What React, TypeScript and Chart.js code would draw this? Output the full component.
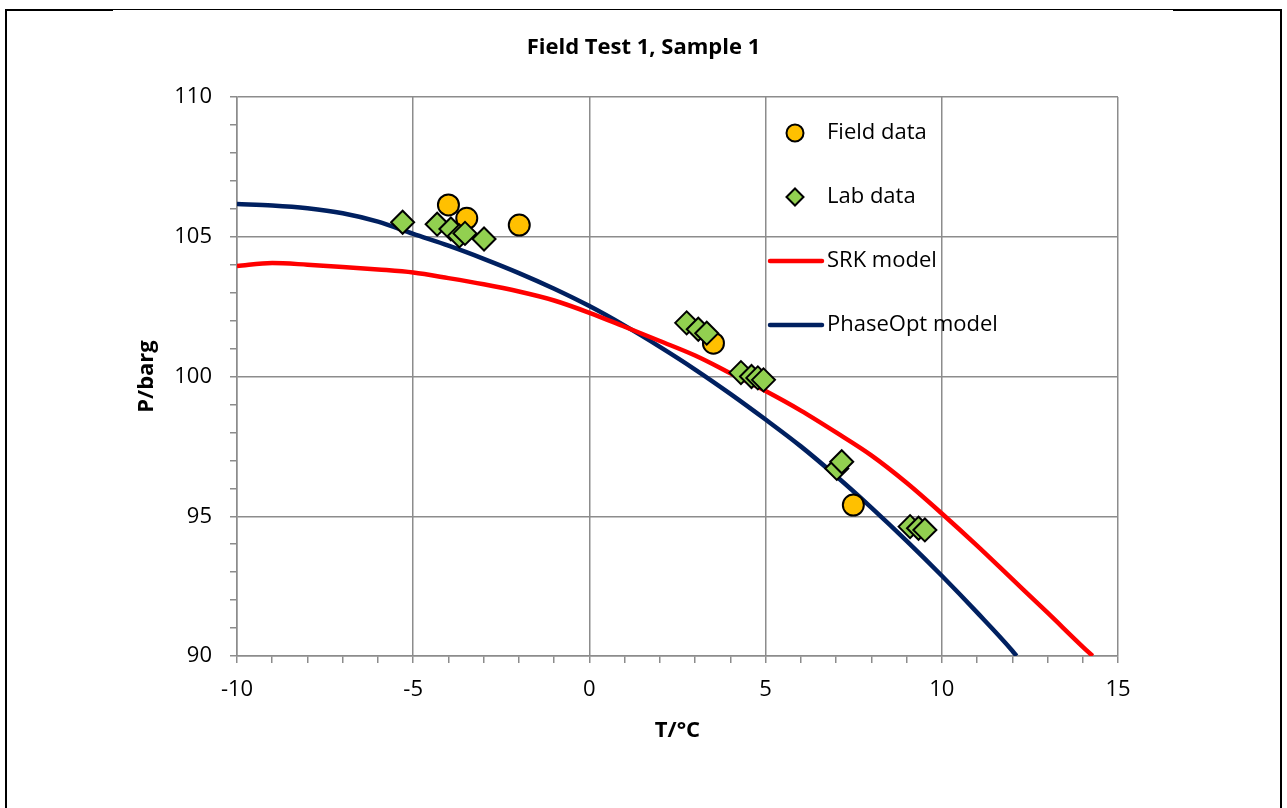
import { useEffect, useRef } from 'react';
import { Chart, registerables } from 'chart.js';

Chart.register(...registerables);

// ---- data ----
const fieldT = [-4.0, -3.48, -1.99, 3.52, 7.49];
const fieldP = [106.14, 105.66, 105.42, 101.19, 95.4];

const labT = [-5.3, -4.32, -3.93, -3.69, -3.53, -2.99, 2.76, 3.09, 3.33, 4.3, 4.6, 4.78, 4.94, 7.02, 7.16, 9.1, 9.34, 9.52];
const labP = [105.52, 105.45, 105.28, 105.03, 105.12, 104.92, 101.92, 101.69, 101.55, 100.14, 100.0, 99.95, 99.88, 96.71, 96.95, 94.63, 94.57, 94.51];

const srkT = [-10, -9, -8, -7, -6, -5, -4, -3, -2, -1, 0, 1, 2, 3, 4, 5, 6, 7, 8, 9, 10, 11, 12, 13, 14, 14.28];
const srkP = [103.95, 104.06, 104.0, 103.92, 103.83, 103.72, 103.52, 103.3, 103.04, 102.72, 102.28, 101.78, 101.27, 100.75, 100.12, 99.48, 98.78, 98.0, 97.18, 96.2, 95.1, 93.95, 92.75, 91.55, 90.33, 90.0];

const phaseT = [-10, -9, -8, -7, -6, -5, -4, -3, -2, -1, 0, 1, 2, 3, 4, 5, 6, 7, 8, 9, 10, 11, 12, 12.12];
const phaseP = [106.17, 106.12, 106.02, 105.84, 105.54, 105.1, 104.68, 104.21, 103.7, 103.14, 102.52, 101.82, 101.06, 100.25, 99.38, 98.46, 97.5, 96.44, 95.31, 94.12, 92.87, 91.56, 90.19, 90.0];

const xTickLabels = ['-10', '-5', '0', '5', '10', '15'];
const yTickLabels = ['90', '95', '100', '105', '110'];

const FONT = '"Open Sans", "Noto Sans", sans-serif';
const GRID = '#8c8c8c';

const pts = (xs: number[], ys: number[]) => xs.map((x, i) => ({ x, y: ys[i] }));

const legendPlugin = {
  id: 'insideLegend',
  afterDraw(chart: any) {
    const { ctx, chartArea } = chart;
    const markerX = chartArea.left + 558;
    const lineX0 = chartArea.left + 533;
    const lineX1 = chartArea.left + 585;
    const textX = chartArea.left + 590;
    ctx.save();
    chart.data.datasets.forEach((ds: any, i: number) => {
      const y = chartArea.top + 36 + 64 * i;
      if (ds.showLine) {
        ctx.strokeStyle = ds.borderColor;
        ctx.lineWidth = ds.borderWidth;
        ctx.lineCap = 'round';
        ctx.beginPath();
        ctx.moveTo(lineX0, y);
        ctx.lineTo(lineX1, y);
        ctx.stroke();
      } else {
        ctx.fillStyle = ds.pointBackgroundColor;
        ctx.strokeStyle = ds.pointBorderColor;
        ctx.lineWidth = 2;
        ctx.beginPath();
        if (ds.pointStyle === 'circle') {
          ctx.arc(markerX, y, 8.5, 0, Math.PI * 2);
        } else {
          const r = 8.5;
          ctx.moveTo(markerX - r, y);
          ctx.lineTo(markerX, y - r);
          ctx.lineTo(markerX + r, y);
          ctx.lineTo(markerX, y + r);
          ctx.closePath();
        }
        ctx.fill();
        ctx.stroke();
      }
      ctx.fillStyle = '#000';
      ctx.font = `22px ${FONT}`;
      ctx.textAlign = 'left';
      ctx.textBaseline = 'middle';
      ctx.fillText(ds.label, textX, y);
    });
    ctx.restore();
  },
};

export default function App() {
  const ref = useRef<HTMLCanvasElement | null>(null);

  useEffect(() => {
    if (!ref.current) return;
    const gridColor = (c: any) =>
      c.tick && Math.round(c.tick.value) % 5 === 0 ? GRID : 'rgba(0,0,0,0)';
    const chart = new Chart(ref.current, {
      type: 'scatter',
      data: {
        datasets: [
          {
            label: 'Field data',
            data: pts(fieldT, fieldP),
            pointStyle: 'circle',
            pointRadius: 10.5,
            pointBackgroundColor: '#FFC000',
            pointBorderColor: '#000',
            pointBorderWidth: 2,
            showLine: false,
            order: 1,
          },
          {
            label: 'Lab data',
            data: pts(labT, labP),
            pointStyle: 'rectRot',
            pointRadius: 11.5,
            pointBackgroundColor: '#92D050',
            pointBorderColor: '#000',
            pointBorderWidth: 2,
            showLine: false,
            order: 0,
          },
          {
            label: 'SRK model',
            data: pts(srkT, srkP),
            showLine: true,
            borderColor: '#FF0000',
            backgroundColor: '#FF0000',
            borderWidth: 4.5,
            pointRadius: 0,
            cubicInterpolationMode: 'monotone',
            order: 2,
          },
          {
            label: 'PhaseOpt model',
            data: pts(phaseT, phaseP),
            showLine: true,
            borderColor: '#002060',
            backgroundColor: '#002060',
            borderWidth: 4.5,
            pointRadius: 0,
            cubicInterpolationMode: 'monotone',
            order: 3,
          },
        ],
      } as any,
      options: {
        responsive: false,
        animation: false,
        layout: { padding: 0 },
        plugins: {
          legend: { display: false },
          tooltip: { enabled: false },
          title: {
            display: true,
            text: 'Field Test 1, Sample 1',
            color: '#000',
            font: { family: FONT, size: 22, weight: 'bold', lineHeight: 1.2 },
            padding: { top: 35, bottom: 35.6 },
          },
        },
        scales: {
          x: {
            type: 'linear',
            min: -10,
            max: 15,
            ticks: {
              stepSize: 1,
              autoSkip: false,
              maxRotation: 0,
              padding: 14,
              color: '#000',
              font: { family: FONT, size: 22 },
              callback: (v: any) => {
                const s = String(v);
                return xTickLabels.includes(s) ? s : '';
              },
            },
            grid: { color: gridColor, tickColor: GRID, tickLength: 7, lineWidth: 1.5 },
            border: { color: GRID, width: 1.5 },
            title: {
              display: true,
              text: 'T/°C',
              color: '#000',
              font: { family: FONT, size: 22, weight: 'bold', lineHeight: 1.2 },
              padding: { top: 0, bottom: 64 },
            },
            afterFit: (s: any) => {
              s.height = 152;
            },
          },
          y: {
            type: 'linear',
            position: 'left',
            min: 90,
            max: 110,
            ticks: {
              stepSize: 1,
              autoSkip: false,
              padding: 18,
              color: '#000',
              font: { family: FONT, size: 22 },
              callback: (v: any) => {
                const s = String(v);
                return yTickLabels.includes(s) ? s : '';
              },
            },
            grid: { color: gridColor, tickColor: GRID, tickLength: 7, lineWidth: 1.5 },
            border: { color: GRID, width: 1.5 },
            title: {
              display: true,
              text: 'P/barg',
              color: '#000',
              font: { family: FONT, size: 22, weight: 'bold', lineHeight: 1.2 },
              padding: { top: 134, bottom: 0 },
            },
            afterFit: (s: any) => {
              s.width = 237;
            },
          },
          yRightSpace: {
            type: 'linear',
            position: 'right',
            display: true,
            ticks: { display: false },
            grid: { display: false },
            border: { display: false },
            afterFit: (s: any) => {
              s.width = 169;
            },
          },
        },
      } as any,
      plugins: [legendPlugin],
    });
    return () => chart.destroy();
  }, []);

  const line = (style: any) => (
    <div style={{ position: 'absolute', background: '#000', ...style }} />
  );

  return (
    <div style={{ position: 'absolute', left: 0, top: 0, width: 1287, height: 808, overflow: 'hidden', background: '#fff' }}>
      <canvas ref={ref} width={1287} height={808} style={{ position: 'absolute', left: 0, top: 0, width: 1287, height: 808 }} />
      {line({ left: 5, top: 9, width: 1277, height: 1 })}
      {line({ left: 5, top: 9, width: 108, height: 2 })}
      {line({ left: 1173, top: 9, width: 109, height: 2 })}
      {line({ left: 5, top: 9, width: 2, height: 799 })}
      {line({ left: 1280, top: 9, width: 2, height: 799 })}
    </div>
  );
}
